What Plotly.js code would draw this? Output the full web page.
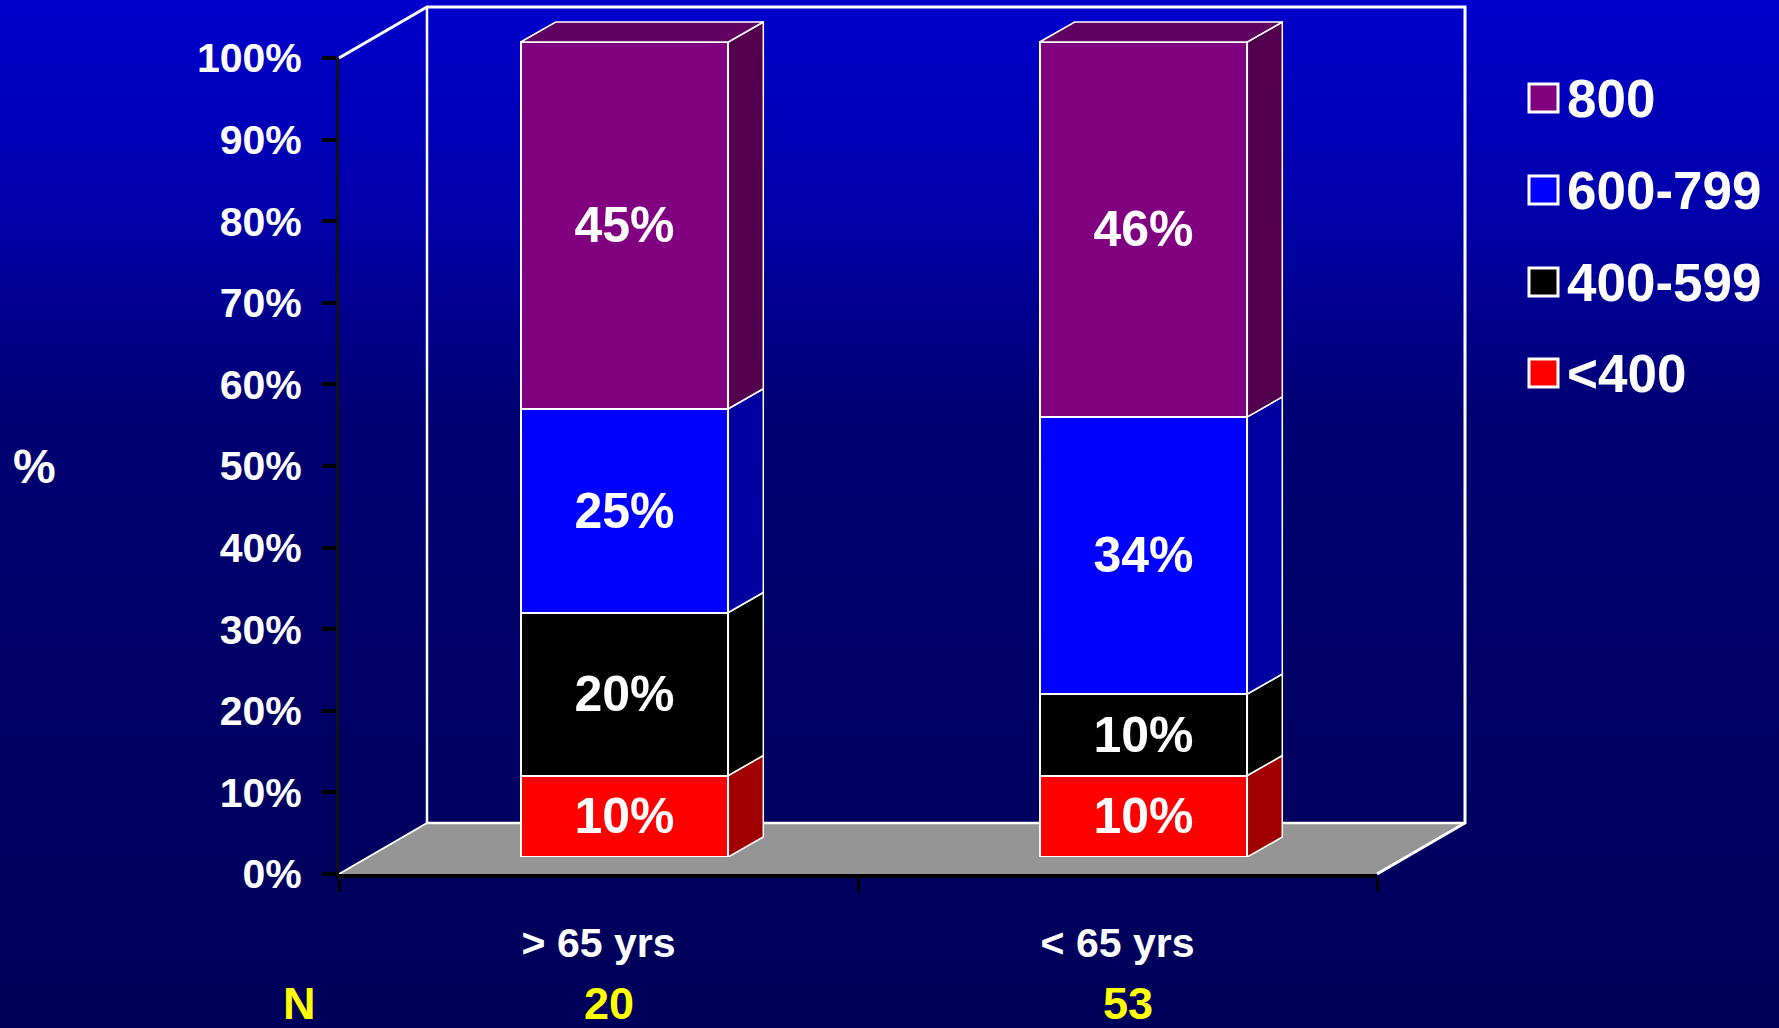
<!DOCTYPE html>
<html>
<head>
<meta charset="utf-8">
<script src="https://cdn.plot.ly/plotly-3.0.1.min.js"></script>
<style>
  html, body { margin: 0; padding: 0; width: 1779px; height: 1028px; overflow: hidden;
    background: linear-gradient(to bottom, #0000CC 0%, #0000AC 20%, #000074 40%, #000064 70%, #00005A 100%); }
  #chart { width: 1779px; height: 1028px; }
</style>
</head>
<body>
<div id="chart"></div>
<script>
// ---------------- data ----------------
const categories = ['> 65 yrs', '< 65 yrs'];
const nCounts = [20, 53];
const seriesNames = ['<400', '400-599', '600-799', '800'];
const under400 = [10, 10];
const from400to599 = [20, 10];
const from600to799 = [25, 34];
const over800 = [45, 46];
const yTickValues = [0, 10, 20, 30, 40, 50, 60, 70, 80, 90, 100];
const yTickLabels = ['0%', '10%', '20%', '30%', '40%', '50%', '60%', '70%', '80%', '90%', '100%'];

// ---------------- styles ----------------
const W = 1779, H = 1028;
const FONT = "'Liberation Sans', Arial, sans-serif";
const frontColors = ['#FF0000', '#000000', '#0000FF', '#800080'];
const sideColors = ['#A00000', '#000000', '#0000A0', '#52004E'];
const topColor = '#600060';

// geometry (pixels)
const front = {x0: 339, x1: 1377, y0: 874, y1: 58};   // front plane: 0% and 100%
const depth = {dx: 88, dy: 51};                       // floor / wall depth
const barPlane = {x0: 365, x1: 1403, y0: 857, y1: 42}; // plane of the bar front faces
const barDepth = {dx: 35, dy: 20};
const barWidth = 0.4;

const px = x => x / W;
const py = y => 1 - y / H;

const series = [under400, from400to599, from600to799, over800];

// bar-plane scales
const pxPerCat = (barPlane.x1 - barPlane.x0) / 2;
const pxPerPct = (barPlane.y0 - barPlane.y1) / 100;
const ddx = barDepth.dx / pxPerCat;
const ddy = barDepth.dy / pxPerPct;
const y2max = barPlane.y0 / pxPerPct;

const traces = [];
// front faces: stacked bars
series.forEach((vals, k) => {
  traces.push({
    type: 'bar', name: seriesNames[k], x: categories.map((c, i) => i), y: vals,
    xaxis: 'x2', yaxis: 'y2', width: barWidth,
    marker: {color: frontColors[k], line: {color: '#FFFFFF', width: 2}},
    texttemplate: '%{y}%', textposition: 'inside', insidetextanchor: 'middle',
    constraintext: 'none',
    textfont: {family: FONT, size: 50, color: '#FFFFFF', weight: 'bold'},
    hoverinfo: 'skip', showlegend: false
  });
});
// side faces and top face, computed from the stacked values
categories.forEach((c, i) => {
  let base = 0;
  series.forEach((vals, k) => {
    const top = base + vals[i];
    const xr = i + barWidth / 2;
    traces.push({
      type: 'scatter', mode: 'lines', xaxis: 'x2', yaxis: 'y2',
      x: [xr, xr + ddx, xr + ddx, xr, xr],
      y: [base, base + ddy, top + ddy, top, base],
      fill: 'toself', fillcolor: sideColors[k],
      line: {color: '#FFFFFF', width: 1.5}, hoverinfo: 'skip', showlegend: false
    });
    if (k === series.length - 1) {
      const xl = i - barWidth / 2;
      traces.push({
        type: 'scatter', mode: 'lines', xaxis: 'x2', yaxis: 'y2',
        x: [xl, xl + ddx, xr + ddx, xr, xl],
        y: [top, top + ddy, top + ddy, top, top],
        fill: 'toself', fillcolor: topColor,
        line: {color: '#FFFFFF', width: 1.5}, hoverinfo: 'skip', showlegend: false
      });
    }
    base = top;
  });
});

// ---------------- decoration: floor and back wall ----------------
const P = (x, y) => px(x) + ',' + py(y);
const bx0 = front.x0 + depth.dx, bx1 = front.x1 + depth.dx;
const byTop = front.y1 - depth.dy, byBot = front.y0 - depth.dy;
const shapes = [
  {type: 'path', xref: 'paper', yref: 'paper', layer: 'below',
   path: 'M' + P(front.x0, front.y0) + 'L' + P(front.x1, front.y0) + 'L' + P(bx1, byBot) + 'L' + P(bx0, byBot) + 'Z',
   fillcolor: '#959595', line: {width: 0}},
  {type: 'path', xref: 'paper', yref: 'paper', layer: 'below',
   path: 'M' + P(front.x0, front.y1) + 'L' + P(bx0, byTop) + 'L' + P(bx1, byTop) + 'L' + P(bx1, byBot) + 'L' + P(front.x1, front.y0),
   line: {color: '#FFFFFF', width: 3}},
  {type: 'path', xref: 'paper', yref: 'paper', layer: 'below',
   path: 'M' + P(bx0, byTop) + 'L' + P(bx0, byBot) + 'L' + P(bx1, byBot),
   line: {color: '#FFFFFF', width: 2.5}},
  {type: 'path', xref: 'paper', yref: 'paper', layer: 'below',
   path: 'M' + P(front.x0, front.y0) + 'L' + P(bx0, byBot),
   line: {color: '#FFFFFF', width: 2}}
];

// legend (top entry = last series)
const legendRows = [98, 190, 282, 373];
const annotations = [];
const legendOrder = [3, 2, 1, 0];
legendOrder.forEach((k, r) => {
  const yc = legendRows[r];
  shapes.push({type: 'rect', xref: 'paper', yref: 'paper',
    x0: px(1529), x1: px(1558), y0: py(yc + 14), y1: py(yc - 14),
    fillcolor: frontColors[k], line: {color: '#FFFFFF', width: 3}});
  annotations.push({xref: 'paper', yref: 'paper', x: px(1565), y: py(yc), xanchor: 'left', yanchor: 'middle',
    text: seriesNames[k], showarrow: false,
    font: {family: FONT, size: 53, color: '#FFFFFF', weight: 'bold'}});
});
// axis title "%"
annotations.push({xref: 'paper', yref: 'paper', x: px(34), y: py(467), xanchor: 'center', yanchor: 'middle',
  text: '%', showarrow: false, font: {family: FONT, size: 48, color: '#FFFFFF', weight: 'bold'}});
// N row
annotations.push({xref: 'paper', yref: 'paper', x: px(299), y: 0, yshift: -3, xanchor: 'center', yanchor: 'bottom',
  text: 'N', showarrow: false, font: {family: FONT, size: 45, color: '#FFFF00', weight: 'bold'}});
nCounts.forEach((n, i) => {
  annotations.push({xref: 'x', yref: 'paper', x: i, y: 0, xshift: 10, yshift: -3, xanchor: 'center', yanchor: 'bottom',
    text: String(n), showarrow: false, font: {family: FONT, size: 45, color: '#FFFF00', weight: 'bold'}});
});

const layout = {
  width: W, height: H, margin: {l: 0, r: 0, t: 0, b: 0},
  paper_bgcolor: 'rgba(0,0,0,0)', plot_bgcolor: 'rgba(0,0,0,0)',
  showlegend: false, barmode: 'stack', bargap: 0.6,
  xaxis: {domain: [px(front.x0), px(front.x1)], range: [-0.5, 1.5], type: 'linear',
    tickvals: categories.map((c, i) => i), ticktext: categories, ticks: '',
    tickfont: {family: FONT, size: 41, color: '#FFFFFF', weight: 'bold'},
    ticklabelstandoff: 30,
    minor: {tickmode: 'linear', tick0: -0.5, dtick: 1, ticks: 'outside', ticklen: 14, tickwidth: 3, tickcolor: '#000000'},
    showline: true, linecolor: '#000000', linewidth: 4, showgrid: false, zeroline: false, fixedrange: true},
  yaxis: {domain: [py(front.y0), py(front.y1)], range: [0, 100], anchor: 'x',
    tickmode: 'array', tickvals: yTickValues, ticktext: yTickLabels,
    ticks: 'outside', ticklen: 14, tickwidth: 4, tickcolor: '#000000',
    tickfont: {family: FONT, size: 41, color: '#FFFFFF', weight: 'bold'}, ticklabelstandoff: 12,
    showline: true, linecolor: '#111111', linewidth: 3, showgrid: false, zeroline: false, fixedrange: true},
  xaxis2: {domain: [px(barPlane.x0), px(barPlane.x1)], range: [-0.5, 1.5], anchor: 'y2', visible: false, fixedrange: true},
  yaxis2: {domain: [py(barPlane.y0), 1], range: [0, y2max], anchor: 'x2', visible: false, fixedrange: true},
  shapes: shapes, annotations: annotations
};

Plotly.newPlot('chart', traces, layout, {displayModeBar: false, staticPlot: true});
</script>
</body>
</html>
